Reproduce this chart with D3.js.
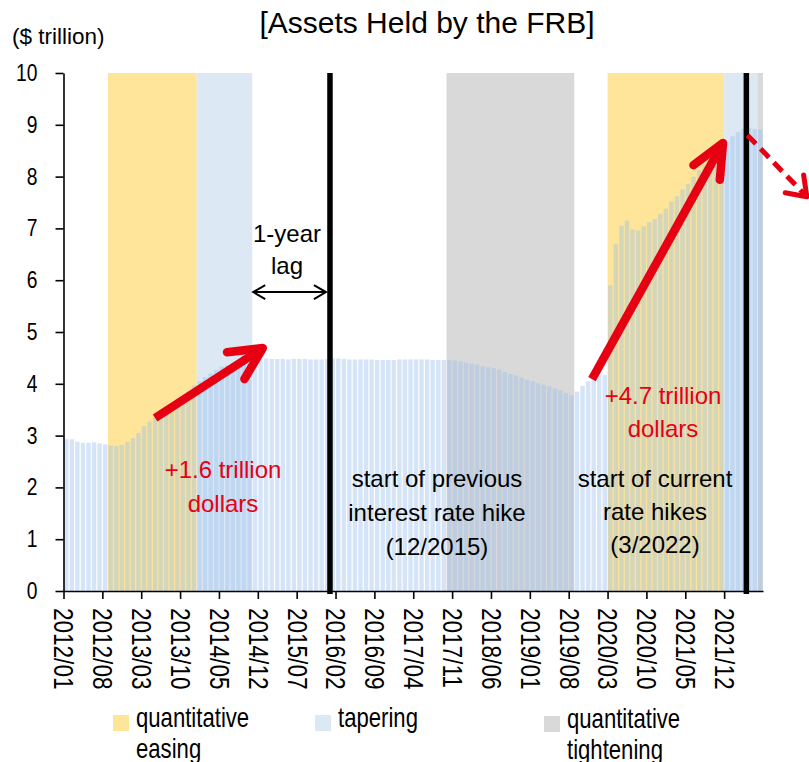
<!DOCTYPE html>
<html>
<head>
<meta charset="utf-8">
<script src="https://cdn.jsdelivr.net/npm/d3@7"></script>
<style>
  body { margin: 0; background: #fff; }
  text { font-family: "Liberation Sans", Arial, sans-serif; fill: #000; }
</style>
</head>
<body>
<svg id="chart" width="809" height="762"></svg>
<script>
// monthly categories 2012/01 .. 2022/06
var months = d3.timeMonth.range(new Date(2012, 0, 1), new Date(2022, 6, 1)).map(d3.timeFormat("%Y/%m"));

// FRB total assets, $ trillion
var assets = [
    2.93, 2.93, 2.88, 2.86, 2.86, 2.87, 2.85, 2.83, 2.81, 2.80, 2.82, 2.88,
    2.95, 3.05, 3.18, 3.27, 3.35, 3.43, 3.52, 3.60, 3.67, 3.76, 3.85, 3.97,
    4.05, 4.13, 4.20, 4.27, 4.33, 4.36, 4.40, 4.42, 4.43, 4.46, 4.48, 4.48,
    4.49, 4.48, 4.48, 4.48, 4.47, 4.48, 4.48, 4.48, 4.47, 4.47, 4.47, 4.48,
    4.49, 4.49, 4.48, 4.47, 4.47, 4.47, 4.47, 4.47, 4.46, 4.46, 4.46, 4.46,
    4.47, 4.47, 4.47, 4.47, 4.47, 4.47, 4.46, 4.46, 4.46, 4.46, 4.45, 4.43,
    4.41, 4.39, 4.37, 4.34, 4.32, 4.30, 4.27, 4.23, 4.19, 4.16, 4.12, 4.08,
    4.05, 4.01, 3.98, 3.95, 3.91, 3.87, 3.82, 3.78, 3.85, 3.96, 4.05, 4.12,
    4.16, 4.17, 5.90, 6.70, 7.05, 7.15, 6.98, 6.96, 7.04, 7.12, 7.18, 7.28,
    7.38, 7.52, 7.62, 7.75, 7.86, 8.00, 8.13, 8.22, 8.33, 8.44, 8.56, 8.67,
    8.78, 8.86, 8.92, 8.94, 8.92, 8.91
];

var tickLabels = ["2012/01", "2012/08", "2013/03", "2013/10", "2014/05", "2014/12",
    "2015/07", "2016/02", "2016/09", "2017/04", "2017/11", "2018/06", "2019/01",
    "2019/08", "2020/03", "2020/10", "2021/05", "2021/12"];

// policy phases: [kind, first month, first month after]
var phases = [
    ["qe", "2012/09", "2014/01"],
    ["taper", "2014/01", "2014/11"],
    ["qt", "2017/10", "2019/09"],
    ["qe", "2020/03", "2021/12"],
    ["taper", "2021/12", "2022/06"],
    ["qt", "2022/06", null]
];

var hikeMonths = ["2015/12", "2022/03"];

var legendItems = [
    { kind: "qe", label: ["quantitative", "easing"] },
    { kind: "taper", label: ["tapering"] },
    { kind: "qt", label: ["quantitative", "tightening"] }
];

var phaseColor = { qe: "#ffe599", taper: "#dde8f5", qt: "#d9d9d9" };
var red = "#e60012";
var narrow = 0.82; // condensed look of the axis / legend font

var svg = d3.select("#chart");
var plotL = 63.5, plotR = 763, plotT = 73, plotB = 591;

// index scale for axis / phase edges, band scale for bars
var xi = d3.scaleLinear().domain([0, months.length]).range([plotL, plotR]);
var x = d3.scaleBand().domain(months).range([plotL, plotR]).paddingInner(0.2).paddingOuter(0.1);
var y = d3.scaleLinear().domain([0, 10]).range([plotB, plotT]);

function edge(m) { return m === null ? plotR : xi(months.indexOf(m)); }

// shaded phases
svg.append("g").selectAll("rect")
    .data(phases)
    .enter().append("rect")
    .attr("x", function (d) { return edge(d[1]); })
    .attr("y", plotT)
    .attr("width", function (d) { return edge(d[2]) - edge(d[1]); })
    .attr("height", plotB - plotT)
    .attr("fill", function (d) { return phaseColor[d[0]]; });

// bars
svg.append("g").selectAll("rect")
    .data(assets)
    .enter().append("rect")
    .attr("x", function (d, i) { return x(months[i]); })
    .attr("y", function (d) { return y(d); })
    .attr("width", x.bandwidth())
    .attr("height", function (d) { return plotB - y(d); })
    .attr("fill", "#96bfeb")
    .attr("fill-opacity", 0.4);

// rate hike lines
svg.append("g").selectAll("line")
    .data(hikeMonths)
    .enter().append("line")
    .attr("x1", function (d) { return xi(months.indexOf(d) + 1); })
    .attr("x2", function (d) { return xi(months.indexOf(d) + 1); })
    .attr("y1", plotT)
    .attr("y2", plotB + 3)
    .attr("stroke", "#000")
    .attr("stroke-width", 5.5);

// axes
var yAxis = svg.append("g")
    .attr("transform", "translate(" + plotL + ",0)")
    .call(d3.axisLeft(y).ticks(10).tickSize(8).tickSizeOuter(0));
yAxis.selectAll("text")
    .style("font-size", "23.5px")
    .attr("x", 0)
    .attr("transform", "translate(-26,0) scale(" + narrow + ",1)");

var xAxis = svg.append("g")
    .attr("transform", "translate(0," + plotB + ")")
    .call(d3.axisBottom(xi)
        .tickValues(tickLabels.map(function (t) { return months.indexOf(t); }))
        .tickFormat(function (i) { return months[i]; })
        .tickSize(8).tickSizeOuter(0));
xAxis.selectAll("text")
    .style("font-size", "27.5px")
    .attr("text-anchor", "start")
    .attr("transform", "translate(0,17) rotate(90) scale(" + narrow + ",1)")
    .attr("x", 0)
    .attr("y", 0)
    .attr("dy", "0.35em");

svg.selectAll(".domain, .tick line").attr("stroke", "#000").attr("stroke-width", 1.6);

// titles
svg.append("text").attr("x", 427).attr("y", 33).attr("text-anchor", "middle")
    .style("font-size", "30px").text("[Assets Held by the FRB]");
svg.append("text").attr("x", 12).attr("y", 44)
    .style("font-size", "22.5px").text("($ trillion)");

// arrows
function arrow(g, x1, y1, x2, y2, len, spread, width, dash) {
    var a = Math.atan2(y2 - y1, x2 - x1);
    g.append("line")
        .attr("x1", x1).attr("y1", y1).attr("x2", x2).attr("y2", y2)
        .attr("stroke", red).attr("stroke-width", width)
        .attr("stroke-dasharray", dash || null);
    var p = d3.path();
    p.moveTo(x2 + len * Math.cos(a + Math.PI - spread), y2 + len * Math.sin(a + Math.PI - spread));
    p.lineTo(x2, y2);
    p.lineTo(x2 + len * Math.cos(a + Math.PI + spread), y2 + len * Math.sin(a + Math.PI + spread));
    g.append("path").attr("d", p.toString())
        .attr("fill", "none").attr("stroke", red).attr("stroke-width", width)
        .attr("stroke-linecap", "round").attr("stroke-linejoin", "round");
}
var ann = svg.append("g");
arrow(ann, xi(16.5), y(3.34), xi(35.9), y(4.69), 36, 0.46, 8.5);
arrow(ann, xi(95.2), y(4.09), xi(118.8), y(8.65), 37, 0.42, 8.5);
arrow(ann, xi(123.2), y(8.80), xi(133.9), y(7.61), 22, 0.62, 5, "12,7");

// 1-year lag double arrow
var lagY = y(5.77);
var lagA = edge("2014/11") + 1, lagB = xi(months.indexOf("2015/12") + 1) - 4;
var lag = svg.append("g").attr("stroke", "#000").attr("stroke-width", 2).attr("fill", "none");
lag.append("line").attr("x1", lagA).attr("x2", lagB).attr("y1", lagY).attr("y2", lagY);
[[lagA, 1], [lagB, -1]].forEach(function (e) {
    lag.append("path").attr("d", "M" + (e[0] + e[1] * 12) + "," + (lagY - 7) + "L" + e[0] + "," + lagY + "L" + (e[0] + e[1] * 12) + "," + (lagY + 7));
});

// texts
function lines(xc, y0, dy, arr, color) {
    arr.forEach(function (t, i) {
        svg.append("text").attr("x", xc).attr("y", y0 + i * dy)
            .attr("text-anchor", "middle").style("font-size", "24px")
            .style("fill", color || "#000").text(t);
    });
}
lines(287, 242, 32, ["1-year", "lag"]);
lines(223, 478, 34, ["+1.6 trillion", "dollars"], red);
lines(663, 404, 33, ["+4.7 trillion", "dollars"], red);
lines(437, 487, 34, ["start of previous", "interest rate hike", "(12/2015)"]);
lines(655, 487, 33, ["start of current", "rate hikes", "(3/2022)"]);

// legend
var legendX = [113, 315, 544];
var legendY = [715, 715, 716];
legendItems.forEach(function (d, i) {
    var g = svg.append("g").attr("transform", "translate(" + legendX[i] + "," + legendY[i] + ")");
    g.append("rect").attr("width", 16).attr("height", 16).attr("fill", phaseColor[d.kind]);
    d.label.forEach(function (t, j) {
        g.append("text")
            .attr("transform", "translate(23," + (12 + j * 31) + ") scale(" + narrow + ",1)")
            .style("font-size", "27px").text(t);
    });
});
</script>
</body>
</html>
